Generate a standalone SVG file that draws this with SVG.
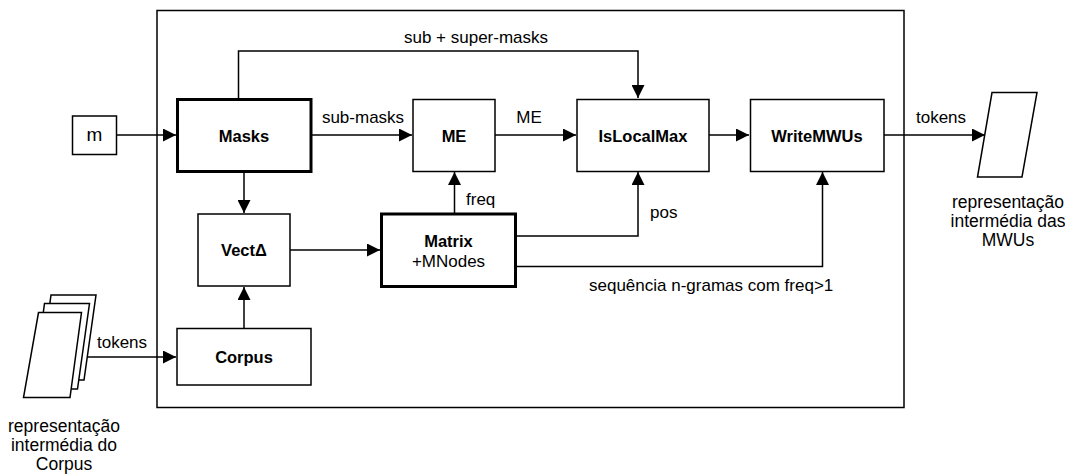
<svg xmlns="http://www.w3.org/2000/svg" width="1065" height="476" viewBox="0 0 1065 476">
  <style>
    text { font-family: "Liberation Sans", Arial, sans-serif; font-size: 17px; fill: #000; }
    .b { font-weight: bold; font-size: 16.5px; }
    .c { text-anchor: middle; }
    .note { font-size: 17.5px; }
    .box { fill: #fff; stroke: #000; stroke-width: 1.5; }
    .thick { fill: #fff; stroke: #000; stroke-width: 3; }
    .frame { fill: none; stroke: #000; stroke-width: 1.5; }
    .doc { fill: #fff; stroke: #000; stroke-width: 1.5; stroke-linejoin: miter; }
    .wire { fill: none; stroke: #000; stroke-width: 1.5; marker-end: url(#arrow); }
  </style>
  <defs>
    <marker id="arrow" markerUnits="userSpaceOnUse" markerWidth="13" markerHeight="13" refX="13" refY="6.5" orient="auto">
      <path d="M0,0 L13,6.5 L0,13 Z" fill="#000"/>
    </marker>
  </defs>

  <rect width="1065" height="476" fill="#fff"/>

  <!-- process boundary -->
  <rect id="boundary" class="frame" x="157" y="10.5" width="747" height="397"/>

  <!-- connectors -->
  <g id="connectors">
    <path class="wire" d="M116,135 L176,135"/>
    <path class="wire" d="M311,135 L412,135"/>
    <path class="wire" d="M495,135 L576,135"/>
    <path class="wire" d="M709,135 L749,135"/>
    <path class="wire" d="M884,135 L985,135"/>
    <path class="wire" d="M238.5,99 L238.5,51 L638,51 L638,98"/>
    <path class="wire" d="M244,172 L244,213"/>
    <path class="wire" d="M244,328 L244,287"/>
    <path class="wire" d="M86,357 L176,357"/>
    <path class="wire" d="M290,250 L380,250"/>
    <path class="wire" d="M454.5,213 L454.5,172"/>
    <path class="wire" d="M516,236 L638,236 L638,172"/>
    <path class="wire" d="M516,266.5 L822.5,266.5 L822.5,172"/>
    <text class="c" x="476" y="43">sub + super-masks</text>
    <text class="c" x="363" y="123">sub-masks</text>
    <text class="c" x="529" y="123">ME</text>
    <text class="c" x="941" y="123">tokens</text>
    <text class="c" x="122" y="348">tokens</text>
    <text x="466" y="205">freq</text>
    <text x="650" y="218">pos</text>
    <text x="589" y="291">sequência n-gramas com freq&gt;1</text>
  </g>

  <g id="node-m">
    <rect class="box" x="72.5" y="116" width="44" height="38.5"/>
    <text class="c" x="94.5" y="141" style="font-size:19px">m</text>
  </g>

  <g id="node-masks">
    <rect class="thick" x="177.5" y="99.5" width="133.5" height="72"/>
    <text class="c b" x="244" y="141.5">Masks</text>
  </g>

  <g id="node-me">
    <rect class="box" x="413" y="99.5" width="82" height="72"/>
    <text class="c b" x="454" y="141.5">ME</text>
  </g>

  <g id="node-islocalmax">
    <rect class="box" x="577" y="99.5" width="132" height="72"/>
    <text class="c b" x="643" y="141.5">IsLocalMax</text>
  </g>

  <g id="node-writemwus">
    <rect class="box" x="750.5" y="99.5" width="133.5" height="72"/>
    <text class="c b" x="817" y="141.5">WriteMWUs</text>
  </g>

  <g id="node-vect">
    <rect class="box" x="198" y="214" width="92" height="72"/>
    <text class="c b" x="244" y="256">VectΔ</text>
  </g>

  <g id="node-matrix">
    <rect class="thick" x="381.5" y="214" width="134" height="72.5"/>
    <text class="c b" x="448.5" y="247">Matrix</text>
    <text class="c" x="448.5" y="267">+MNodes</text>
  </g>

  <g id="node-corpus">
    <rect class="box" x="177" y="328.5" width="134" height="56.5"/>
    <text class="c b" x="244" y="363">Corpus</text>
  </g>

  <g id="node-mwu-output">
    <polygon class="doc" points="992,92.5 1037,92.5 1022,177 977.5,177"/>
    <text class="c note" x="1008" y="208">representação</text>
    <text class="c note" x="1008" y="227">intermédia das</text>
    <text class="c note" x="1008" y="246">MWUs</text>
  </g>

  <g id="node-corpus-input">
    <polygon class="doc" points="51,295 96,295 84,380 39.5,380"/>
    <polygon class="doc" points="44.5,303.5 89.5,303.5 77.5,389 33,389"/>
    <polygon class="doc" points="38.5,312.5 81.5,312.5 70,397.5 23.5,397.5"/>
    <text class="c note" x="64" y="432">representação</text>
    <text class="c note" x="64" y="451">intermédia do</text>
    <text class="c note" x="64" y="470">Corpus</text>
  </g>
</svg>
